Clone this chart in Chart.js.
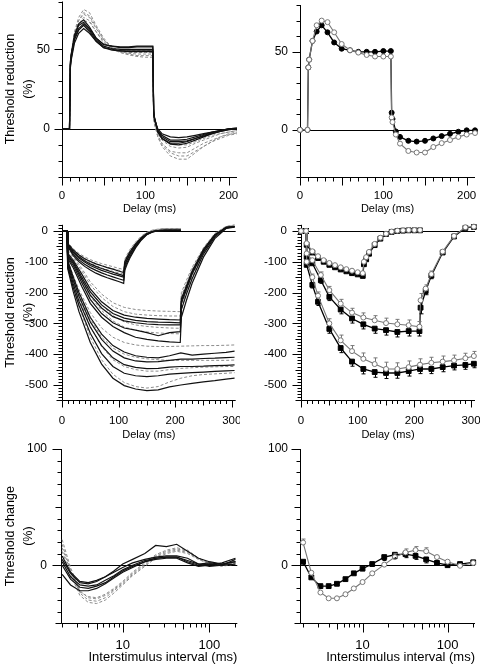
<!DOCTYPE html>
<html>
<head>
<meta charset="utf-8">
<script src="https://cdn.jsdelivr.net/npm/chart.js@4.4.0/dist/chart.umd.min.js"></script>
<style>
  html, body { margin: 0; padding: 0; background: #fff; }
  #fig { position: relative; width: 480px; height: 665px; overflow: hidden; background: #fff; }
  #fig canvas { position: absolute; }
</style>
</head>
<body>
<div id="fig">
  <canvas id="p1"></canvas>
  <canvas id="p2"></canvas>
  <canvas id="p3"></canvas>
  <canvas id="p4"></canvas>
  <canvas id="p5"></canvas>
  <canvas id="p6"></canvas>
</div>
<script>
// ---- top row: depolarizing threshold electrotonus (delay in ms) ----
const teDelays = [0, 9, 10, 11, 15, 20, 26, 33, 41, 50, 60, 70, 80, 90, 100, 109, 110, 111, 115, 120, 130, 140, 150, 160, 170, 180, 190, 200, 210];

const teSolid = [
    [0, 0, 42, 47, 59, 66, 68.5, 64, 57, 53, 52, 51, 51, 51.5, 51.5, 51.5, 12, 7, -2, -6, -9, -9, -8, -6, -4, -2.5, -1, 0, 0.5],
    [0, 0, 40, 45, 57, 63, 66, 62, 56, 52, 50.5, 50, 50, 50, 50, 50, 10, 6, -1, -5, -8, -8, -7.5, -6, -4.5, -3, -1.5, -0.5, 0],
    [0, 0, 38, 43, 54, 60, 63, 60, 55, 51, 50, 49, 49, 49, 49, 49, 10, 6, 0, -3, -5, -5.5, -5, -4, -3, -2, -1, 0, 0.5],
    [0, 0, 41, 46, 58, 65, 67, 63, 57, 53, 52, 51.5, 51.5, 52, 52, 52, 11, 7, -2, -6, -9.5, -10, -9, -7, -5, -3, -1.5, -0.5, 0],
    [0, 0, 39, 44, 56, 62, 65, 61, 55, 51, 49.5, 49, 48.5, 48.5, 48.5, 48.5, 11, 7, -1, -4, -7, -7, -6.5, -5, -3.5, -2, -1, 0, 0],
];
const teDashed = [
    [0, 0, 41, 47, 61, 70, 75, 73, 65, 57, 51, 48.5, 47.5, 47, 47, 47, 8, 4, -5, -11, -17, -19, -19, -15, -11, -8, -5, -3, -2],
    [0, 0, 40, 46, 60, 68, 72, 70, 63, 56, 50.5, 48, 47, 46, 46, 46, 7, 3, -4, -9, -14, -15, -15, -12, -9, -7, -5, -3.5, -2.5],
    [0, 0, 40, 45, 58, 66, 70, 68, 61, 54, 51, 50, 49, 49, 49, 49, 9, 5, -3, -7, -11, -12, -11.5, -9, -7, -5, -3, -2, -1],
    [0, 0, 39, 45, 58, 66, 68, 67, 61, 55, 50, 48, 46.5, 45.5, 45, 45, 7, 3, -5, -10, -15, -17, -17, -14, -11, -8, -6, -4, -3],
    [0, 0, 40, 46, 60, 68, 73, 71, 64, 56, 51, 49, 48, 48, 48, 48, 9, 5, -2, -6, -9, -10, -10, -8, -6, -4, -3, -2, -1],
];
const teMeanFilled = [0, 0, 40, 45, 57, 63, 67, 62.5, 56, 52, 51, 50, 50, 50, 50.5, 50.5, 11, 7, -1, -4.5, -7, -7.5, -7, -5.5, -4, -2.5, -1.2, -0.3, -0.3];
const teMeanOpen = [0, 0, 40, 45, 57, 67, 70, 69, 62.5, 55, 51, 49.5, 48, 47, 47, 47, 8, 5, -3, -8.8, -13.5, -14.5, -14.5, -11, -8.5, -6.5, -4.5, -3, -2];

// ---- middle row: hyperpolarizing threshold electrotonus ----
const h100Delays = [0, 9, 10, 20, 30, 40, 50, 60, 70, 80, 90, 100, 109, 111, 115, 120, 130, 140, 150, 160, 170, 180, 190, 200, 210];
const h100Solid = [
    [0, 0, -50, -80, -100, -115, -127, -137, -145, -152, -158, -164, -170, -128, -108, -88, -55, -30, -12, -3, 1, 3, 3, 3, 3],
    [0, 0, -47, -75, -94, -108, -119, -128, -136, -143, -149, -155, -160, -120, -102, -83, -52, -28, -11, -3, 0, 2, 2, 2, 2],
    [0, 0, -45, -70, -88, -101, -112, -120, -128, -134, -140, -145, -150, -112, -95, -77, -48, -26, -10, -2, 0, 1, 2, 2, 2],
    [0, 0, -43, -67, -84, -97, -107, -115, -122, -128, -134, -140, -145, -108, -92, -74, -46, -24, -9, -2, 1, 2, 2, 2, 2],
    [0, 0, -40, -62, -78, -90, -99, -107, -113, -119, -124, -130, -135, -100, -85, -68, -42, -22, -8, -1, 1, 2, 2, 2, 2],
];
const h100Dashed = [
    [0, 0, -37, -58, -73, -84, -93, -100, -106, -111, -116, -121, -125, -92, -77, -60, -36, -17, -4, 3, 6, 8, 8, 8, 8],
    [0, 0, -39, -61, -77, -89, -98, -106, -112, -118, -123, -127, -131, -97, -81, -64, -39, -19, -5, 2, 5, 7, 7, 7, 7],
    [0, 0, -42, -65, -82, -94, -104, -113, -120, -126, -131, -136, -140, -104, -88, -70, -43, -22, -7, 1, 4, 6, 6, 6, 6],
];
const h100MeanFilled = [0, 0, -45, -70, -88, -100, -110, -118, -125, -131, -137, -141, -146, -108, -92, -74, -46, -25, -10, -3, 0, 1, 2, 2, 2];
const h100MeanOpen = [0, 0, -40, -66, -82, -95, -104, -111, -118, -124, -129, -134, -137, -100, -85, -68, -42, -22, -9, -2, 1, 2, 3, 3, 3];
const h100ErrFilled = [0, 0, 3, 4, 4, 5, 5, 5, 5, 5, 5, 6, 6, 6, 5, 5, 4, 3, 3, 2, 2, 2, 2, 2, 2];
const h100ErrOpen = [0, 0, 3, 4, 4, 5, 5, 5, 5, 5, 5, 6, 6, 6, 5, 5, 4, 3, 3, 2, 2, 2, 2, 2, 2];

const h200Delays = [0, 9, 10, 20, 35, 50, 70, 90, 110, 130, 150, 170, 190, 209, 211, 220, 230, 250, 270, 290, 305];
const h200Solid = [
    [0, 0, -90, -120, -180, -235, -280, -310, -330, -345, -352, -357, -360, -362, -280, -225, -170, -85, -25, 8, 12],
    [0, 0, -85, -112, -168, -222, -268, -298, -315, -322, -330, -340, -330, -327, -255, -205, -155, -75, -20, 10, 14],
    [0, 0, -80, -105, -158, -208, -250, -278, -292, -298, -302, -304, -305, -305, -235, -190, -140, -68, -15, 12, 15],
    [0, 0, -78, -100, -150, -198, -240, -268, -283, -290, -294, -296, -297, -298, -228, -183, -135, -64, -14, 12, 14],
    [0, 0, -72, -95, -140, -188, -230, -258, -273, -280, -284, -286, -288, -289, -220, -178, -130, -60, -12, 10, 13],
];
const h200Dashed = [
    [0, 0, -62, -82, -122, -165, -205, -233, -248, -255, -258, -260, -261, -262, -200, -160, -118, -55, -8, 15, 20],
    [0, 0, -66, -88, -130, -175, -216, -245, -262, -270, -273, -275, -276, -276, -210, -170, -125, -58, -10, 14, 18],
    [0, 0, -74, -98, -148, -196, -240, -275, -295, -305, -310, -313, -315, -316, -240, -192, -142, -68, -14, 12, 16],
    [0, 0, -80, -106, -160, -212, -258, -292, -312, -322, -328, -331, -333, -334, -255, -200, -150, -72, -16, 10, 15],
];
const h200MeanFilled = [0, 0, -84, -105, -160, -214, -255, -284, -303, -317, -322, -328, -325, -325, -249, -195, -145, -70, -18, 10, 13];
const h200MeanOpen = [0, 0, -73, -95, -143, -192, -236, -265, -281, -290, -299, -303, -306, -311, -225, -187, -140, -67, -16, 12, 14];
const h200ErrFilled = [0, 0, 5, 8, 10, 12, 14, 15, 15, 15, 16, 16, 16, 16, 20, 12, 10, 6, 4, 3, 3];
const h200ErrOpen = [0, 0, 5, 8, 10, 12, 14, 14, 15, 15, 16, 16, 17, 17, 22, 12, 10, 6, 4, 3, 3];

const h300Delays = [0, 9, 10, 20, 30, 50, 70, 90, 110, 130, 150, 170, 190, 210, 230, 250, 270, 290, 305];
const h300Solid = [
    [0, 0, -122, -198, -262, -362, -432, -478, -502, -513, -518, -516, -506, -500, -495, -490, -486, -481, -478],
    [0, 0, -115, -185, -242, -332, -398, -440, -462, -470, -473, -470, -465, -462, -460, -458, -456, -454, -453],
    [0, 0, -108, -172, -228, -312, -372, -412, -434, -443, -447, -446, -442, -440, -440, -439, -437, -436, -435],
    [0, 0, -95, -150, -200, -280, -335, -372, -393, -405, -410, -412, -405, -396, -403, -400, -397, -394, -390],
    [0, 0, -100, -160, -212, -295, -352, -390, -412, -422, -425, -424, -420, -416, -416, -414, -413, -411, -410],
];
const h300Dashed = [
    [0, 0, -95, -145, -190, -265, -315, -345, -362, -370, -374, -375, -375, -374, -373, -372, -372, -371, -370],
    [0, 0, -100, -155, -205, -285, -345, -380, -400, -410, -415, -418, -420, -420, -420, -420, -420, -420, -419],
    [0, 0, -105, -165, -220, -310, -375, -418, -440, -450, -455, -455, -450, -446, -444, -442, -441, -440, -440],
    [0, 0, -112, -182, -245, -345, -418, -465, -492, -505, -510, -505, -490, -478, -470, -466, -464, -462, -460],
];
const h300MeanFilled = [0, 0, -110, -175, -230, -318, -380, -424, -448, -458, -461, -461, -455, -448, -448, -442, -437, -435, -431];
const h300MeanOpen = [0, 0, -100, -150, -210, -300, -355, -390, -415, -432, -448, -448, -442, -434, -428, -424, -420, -413, -406];
const h300ErrFilled = [0, 0, 6, 10, 12, 14, 15, 15, 16, 17, 18, 17, 16, 15, 15, 15, 14, 14, 13];
const h300ErrOpen = [0, 0, 6, 10, 12, 15, 17, 18, 19, 20, 22, 20, 20, 19, 18, 18, 17, 16, 15];

// ---- bottom row: recovery cycle (interstimulus interval, ms) ----
const isi = [2, 2.5, 3.2, 4, 5, 6.3, 7.9, 10, 13, 18, 24, 32, 42, 56, 75, 100, 140, 200];
const rcSolid = [
    [5, -7, -15, -16, -14, -10, -5, 1, 5, 10, 17, 16, 18, 12, 6, 3, 1, 3],
    [8, -6, -14, -15, -13, -10, -6, -2, 2, 5, 7, 8, 8, 6, 1, -1, 0, 1],
    [3, -10, -17, -18, -17, -13, -9, -4, 0, 4, 6, 7, 7, 3, 0, 1, 0, 5],
    [0, -12, -19, -20, -18, -15, -10, -5, -1, 3, 5, 6, 6, 2, -1, 0, 2, 6],
    [-8, -17, -22, -22, -20, -16, -11, -6, -2, 3, 6, 7, 7, 4, 1, 2, 1, 3],
];
const rcDashed = [
    [22, -2, -22, -28, -29, -26, -21, -15, -7, 1, 8, 12, 14, 12, 6, 2, 0, 2],
    [15, -5, -24, -30, -31, -28, -22, -16, -8, 0, 7, 11, 13, 11, 5, 2, 0, 2],
    [12, -8, -26, -32, -33, -30, -24, -17, -9, -1, 6, 10, 12, 10, 5, 1, -1, 1],
    [18, -4, -23, -27, -28, -25, -20, -14, -6, 2, 9, 13, 15, 13, 6, 2, 0, 2],
];
const rcMeanFilled = [3, -10.5, -18, -18, -16, -12, -7, -3, 1, 7, 9, 9.5, 8, 5, 2, 0, 1, 2.5];
const rcMeanOpen = [19.5, -6.5, -23.5, -28.5, -28.5, -25, -20, -14.5, -7, 0.5, 7, 11, 13, 12, 7, 3, -0.5, 2];
const rcErrFilled = [3, 2, 2, 2, 2, 2, 2, 2, 2, 3, 3, 3, 3, 3, 2, 2, 2, 2];
const rcErrOpen = [3, 2, 2, 2, 2, 2, 2, 2, 2, 2, 3, 3, 3, 3, 2, 2, 2, 2];

// tick labels
const topXLabels = [0, 100, 200];
const topYLabels = [0, 50];
const midXLabels = [0, 100, 200, 300];
const midYLabels = [0, -100, -200, -300, -400, -500];
const botXLabels = [10, 100];
const botYLabels = [0, 100];
const logTickVals = [2, 3, 4, 5, 6, 7, 8, 9, 10, 20, 30, 40, 50, 60, 70, 80, 90, 100, 200];

Chart.defaults.font.family = '"Liberation Sans", Arial, Helvetica, sans-serif';
Chart.defaults.color = "#000";

const BLACK = "#000";
const GREY = "#777";
const TRACE_GREY = "#8c8c8c";

const pts = (xs, ys) => xs.map((x, i) => ({ x: x, y: ys[i] }));

const trace = (xs, ys, dashed) => ({
    data: pts(xs, ys),
    borderColor: dashed ? TRACE_GREY : "#111",
    borderWidth: dashed ? 1 : 1.2,
    borderDash: dashed ? [3, 2] : [],
    pointRadius: 0,
    tension: 0,
    fill: false,
    clip: false,
});

const meanLine = (xs, ys, filled, style, err) => ({
    data: pts(xs, ys),
    borderColor: filled ? BLACK : GREY,
    borderWidth: filled ? 1.3 : 1.1,
    pointStyle: style,
    pointRadius: style === "rect" ? 3.4 : 2.5,
    pointBackgroundColor: filled ? BLACK : "#fff",
    pointBorderColor: filled ? BLACK : GREY,
    pointBorderWidth: 1,
    tension: 0,
    fill: false,
    clip: false,
    err: err || null,
    errDir: filled ? -1 : 1,
});

const linTicks = (from, to, step, lenFn) => {
    const out = [];
    for (let k = Math.round(from / step); k <= Math.round(to / step); k++) out.push([k * step, lenFn(k * step)]);
    return out;
};

const axesDeco = (xTicks, yTicks) => ({
    id: "axesDeco",
    beforeDatasetsDraw(chart) {
        const { ctx, chartArea: a, scales: { x, y } } = chart;
        const L = Math.round(a.left) + 0.5;
        const B = Math.round(a.bottom) + 0.5;
        ctx.save();
        ctx.strokeStyle = "#000";
        ctx.lineWidth = 1;
        ctx.beginPath();
        ctx.moveTo(L, a.top);
        ctx.lineTo(L, B);
        ctx.lineTo(a.right, B);
        const z = Math.round(y.getPixelForValue(0)) + 0.5;
        ctx.moveTo(L, z);
        ctx.lineTo(a.right, z);
        xTicks.forEach(([v, len]) => {
            const px = Math.round(x.getPixelForValue(v)) + 0.5;
            ctx.moveTo(px, B);
            ctx.lineTo(px, B + len);
        });
        yTicks.forEach(([v, len]) => {
            const py = Math.round(y.getPixelForValue(v)) + 0.5;
            ctx.moveTo(L, py);
            ctx.lineTo(L - len, py);
        });
        ctx.stroke();
        ctx.restore();
    },
});

const errorBars = {
    id: "errorBars",
    afterDatasetsDraw(chart) {
        const { ctx } = chart;
        const y = chart.scales.y;
        chart.data.datasets.forEach((ds, i) => {
            if (!ds.err) return;
            const meta = chart.getDatasetMeta(i);
            ctx.save();
            ctx.strokeStyle = ds.borderColor;
            ctx.lineWidth = 1;
            meta.data.forEach((pt, j) => {
                const e = ds.err[j];
                if (!e) return;
                const py = y.getPixelForValue(ds.data[j].y + ds.errDir * e);
                const px = Math.round(pt.x) + 0.5;
                const start = pt.y + Math.sign(py - pt.y) * 2.5;
                if (Math.abs(py - pt.y) <= 2.5) return;
                ctx.beginPath();
                ctx.moveTo(px, start);
                ctx.lineTo(px, py);
                ctx.moveTo(px - 2, py);
                ctx.lineTo(px + 2, py);
                ctx.stroke();
            });
            ctx.restore();
        });
    },
};

function makePanel(id, box, cfg) {
    const cv = document.getElementById(id);
    cv.width = box.w;
    cv.height = box.h;
    cv.style.left = box.left + "px";
    cv.style.top = box.top + "px";
    cv.style.width = box.w + "px";
    cv.style.height = box.h + "px";

    return new Chart(cv, {
        type: "line",
        data: { datasets: cfg.datasets },
        options: {
            responsive: false,
            animation: false,
            devicePixelRatio: 1,
            layout: { padding: { left: 0, top: box.area.t, right: box.w - box.area.r, bottom: 0 } },
            plugins: { legend: { display: false }, tooltip: { enabled: false } },
            scales: {
                x: {
                    type: cfg.xType,
                    bounds: "data",
                    min: cfg.xMin,
                    max: cfg.xMax,
                    grid: { display: false, drawTicks: false },
                    border: { display: false },
                    ticks: {
                        autoSkip: false,
                        maxRotation: 0,
                        padding: cfg.xPad,
                        font: { size: cfg.xFont },
                        color: "#000",
                        callback: (v) => (cfg.xLabels.includes(v) ? String(v) : ""),
                    },
                    afterBuildTicks: (s) => { s.ticks = cfg.xLabels.map((v) => ({ value: v })); },
                    afterFit: (s) => { s.height = box.h - box.area.b; s.paddingLeft = 0; s.paddingRight = 0; },
                    title: {
                        display: true,
                        text: cfg.xTitle,
                        align: cfg.xAlign || "center",
                        color: "#000",
                        font: { size: cfg.xTitleFont },
                        padding: { top: 0, bottom: cfg.xTitlePad },
                    },
                },
                y: {
                    type: "linear",
                    bounds: "data",
                    min: cfg.yMin,
                    max: cfg.yMax,
                    grid: { display: false, drawTicks: false },
                    border: { display: false },
                    ticks: {
                        autoSkip: false,
                        padding: cfg.yPad,
                        font: { size: cfg.yFont },
                        color: "#000",
                        callback: (v) => String(v),
                    },
                    afterBuildTicks: (s) => { s.ticks = cfg.yLabels.map((v) => ({ value: v })); },
                    afterFit: (s) => { s.width = box.area.l; s.paddingTop = 0; s.paddingBottom = 0; },
                    title: {
                        display: !!cfg.yTitle,
                        text: cfg.yTitle || "",
                        color: "#000",
                        font: { size: 12.5, lineHeight: 1.45 },
                        padding: { top: 1, bottom: 0 },
                    },
                },
            },
        },
        plugins: [axesDeco(cfg.xTicks, cfg.yTicks), errorBars],
    });
}

// ticks shared by rows
const topX = linTicks(0, 200, 10, (v) => (v % 50 === 0 ? 8 : 4));
const topY = linTicks(-30, 80, 10, (v) => (v % 50 === 0 ? 8 : 4));
const midX = linTicks(0, 300, 10, (v) => (v % 100 === 0 ? 7 : v % 50 === 0 ? 5 : 3.5));
const midY = linTicks(-550, 20, 10, (v) => (v % 100 === 0 ? 9 : v % 50 === 0 ? 6 : 4));
const botX = logTickVals.map((v) => [v, v === 10 || v === 100 ? 9 : v === 5 || v === 50 ? 6 : 4]);
const botY = linTicks(-50, 100, 10, (v) => (v % 100 === 0 ? 9 : v % 50 === 0 ? 6 : 4));

const topCommon = {
    xType: "linear", xMin: 0, xMax: 210, yMin: -30, yMax: 80,
    xLabels: topXLabels, yLabels: topYLabels, xPad: 12, yPad: 12, xFont: 11.5, yFont: 12,
    xTitle: "Delay (ms)", xTitleFont: 11, xTitlePad: 2.4, xTicks: topX, yTicks: topY,
};
const midCommon = {
    xType: "linear", xMin: 0, xMax: 307, yMin: -550, yMax: 20,
    xLabels: midXLabels, yLabels: midYLabels, xPad: 14, yPad: 14, xFont: 11.5, yFont: 11.5,
    xTitle: "Delay (ms)", xTitleFont: 11, xTitlePad: 0.4, xTicks: midX, yTicks: midY,
};
const botCommon = {
    xType: "logarithmic", xMax: 210, yMin: -50, yMax: 100,
    xLabels: botXLabels, yLabels: botYLabels, xPad: 14, yPad: 14, xFont: 13, yFont: 12,
    xTitle: "Interstimulus interval (ms)", xTitleFont: 13, xTitlePad: 0, xAlign: "end", xTicks: botX, yTicks: botY,
};

// panel 1: individual recordings, depolarizing TE
makePanel("p1", { left: 0, top: 0, w: 240, h: 218, area: { l: 62, t: 1.5, r: 237, b: 176.7 } }, Object.assign({}, topCommon, {
    yTitle: ["Threshold reduction", "(%)"],
    datasets: teSolid.map((ys) => trace(teDelays, ys, false)).concat(teDashed.map((ys) => trace(teDelays, ys, true))),
}));

// panel 2: group means (open symbols drawn on top)
makePanel("p2", { left: 240, top: 0, w: 240, h: 218, area: { l: 60, t: 1.5, r: 237, b: 176.7 } }, Object.assign({}, topCommon, {
    datasets: [
        meanLine(teDelays, teMeanOpen, false, "circle"),
        meanLine(teDelays, teMeanFilled, true, "circle"),
    ],
}));

// panel 3: individual recordings, hyperpolarizing TE
makePanel("p3", { left: 0, top: 218, w: 240, h: 224, area: { l: 62, t: 6.8, r: 235.7, b: 182.4 } }, Object.assign({}, midCommon, {
    yTitle: ["Threshold reduction", "(%)"],
    datasets: []
        .concat(h100Solid.map((ys) => trace(h100Delays, ys, false)))
        .concat(h200Solid.map((ys) => trace(h200Delays, ys, false)))
        .concat(h300Solid.map((ys) => trace(h300Delays, ys, false)))
        .concat(h100Dashed.map((ys) => trace(h100Delays, ys, true)))
        .concat(h200Dashed.map((ys) => trace(h200Delays, ys, true)))
        .concat(h300Dashed.map((ys) => trace(h300Delays, ys, true))),
}));

// panel 4: group means with error bars
makePanel("p4", { left: 240, top: 218, w: 240, h: 224, area: { l: 61, t: 6.8, r: 235.7, b: 182.4 } }, Object.assign({}, midCommon, {
    datasets: [
        meanLine(h100Delays, h100MeanOpen, false, "circle", h100ErrOpen),
        meanLine(h200Delays, h200MeanOpen, false, "circle", h200ErrOpen),
        meanLine(h300Delays, h300MeanOpen, false, "circle", h300ErrOpen),
        meanLine(h100Delays, h100MeanFilled, true, "rect", h100ErrFilled),
        meanLine(h200Delays, h200MeanFilled, true, "rect", h200ErrFilled),
        meanLine(h300Delays, h300MeanFilled, true, "rect", h300ErrFilled),
    ],
}));

// panel 5: individual recovery cycles
makePanel("p5", { left: 0, top: 436, w: 240, h: 229, area: { l: 61, t: 13, r: 237.3, b: 187.3 } }, Object.assign({}, botCommon, {
    xMin: 1.94,
    yTitle: ["Threshold change", "(%)"],
    datasets: rcSolid.map((ys) => trace(isi, ys, false)).concat(rcDashed.map((ys) => trace(isi, ys, true))),
}));

// panel 6: mean recovery cycles
makePanel("p6", { left: 240, top: 436, w: 240, h: 229, area: { l: 60, t: 13, r: 237, b: 187.3 } }, Object.assign({}, botCommon, {
    xMin: 1.84,
    yPad: 12,
    datasets: [
        meanLine(isi, rcMeanOpen, false, "circle", rcErrOpen),
        meanLine(isi, rcMeanFilled, true, "rect", rcErrFilled),
    ],
}));
</script>
</body>
</html>
